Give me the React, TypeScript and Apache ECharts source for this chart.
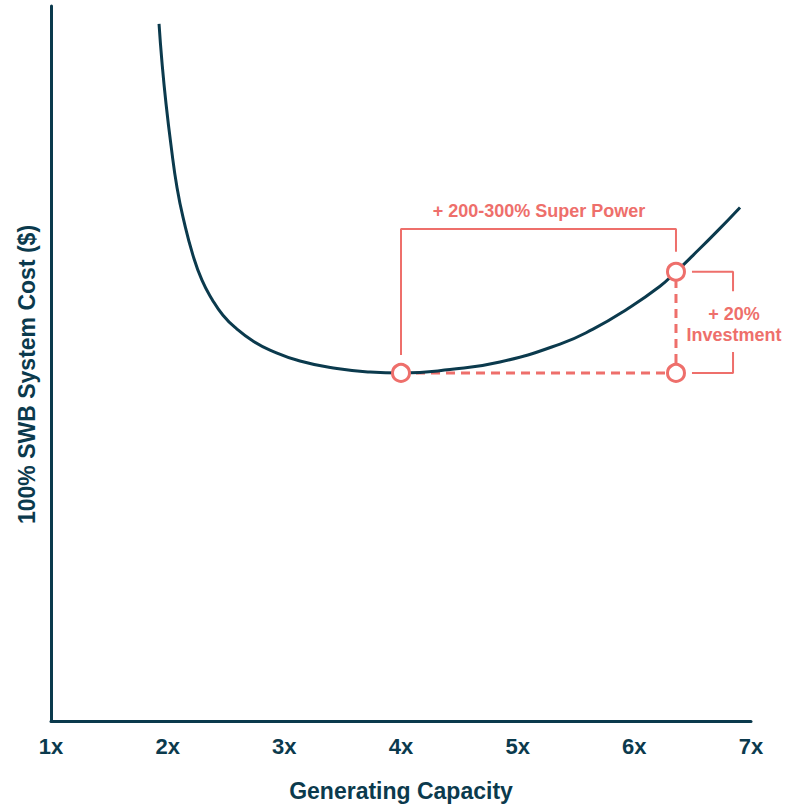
import React, { useEffect, useRef } from "react";
import * as echarts from "echarts";

const NAVY = "#0b3a4d";
const CORAL = "#ee6f6b";

const xTicks = [1, 2, 3, 4, 5, 6, 7];
const xAxisTitle = "Generating Capacity";
const yAxisTitle = "100% SWB System Cost ($)";

// Cost curve (generating capacity multiple, relative system cost)
const curveX = [1.926, 1.951, 1.986, 2.029, 2.08, 2.14, 2.217, 2.294, 2.38, 2.474, 2.594, 2.731, 2.877, 3.134, 3.451, 3.734, 4.0, 4.42, 4.848, 5.363, 5.646, 5.937, 6.22, 6.357, 6.503, 6.709, 6.906];
const curveY = [97.49, 92.19, 86.33, 80.47, 74.62, 69.87, 65.13, 61.65, 59.0, 56.76, 54.81, 53.14, 51.88, 50.35, 49.3, 48.81, 48.68, 49.16, 50.21, 52.72, 54.81, 57.6, 60.81, 62.83, 65.13, 68.48, 71.83];

// Highlighted points: optimum and "super power" point
const optimum = [4.0, 48.68];
const superPower = [6.357, 62.83];

const superLabel = "+ 200-300% Super Power";
const investLabel = ["+ 20%", "Investment"];

export default function App() {
  const ref = useRef<HTMLDivElement>(null);

  useEffect(() => {
    document.body.style.margin = "0";
    if (!ref.current) return;
    const chart = echarts.init(ref.current, null, { renderer: "svg" });

    const curve = curveX.map((x, i) => [x, curveY[i]]);
    const corner = [superPower[0], optimum[1]];

    const bracketTopY = 68.8;
    const bracket = [
      [optimum[0], optimum[1] + 2.5],
      [optimum[0], bracketTopY],
      [superPower[0], bracketTopY],
      [superPower[0], superPower[1] + 2.8],
    ];
    const bx0 = 6.494;
    const bx1 = 6.846;
    const rightTop = [
      [bx0, superPower[1]],
      [bx1, superPower[1]],
      [bx1, 60.1],
    ];
    const rightBottom = [
      [bx1, 51.6],
      [bx1, optimum[1]],
      [bx0, optimum[1]],
    ];

    const fontFamily = "'Liberation Sans', Arial, sans-serif";

    chart.setOption({
      animation: false,
      grid: { left: 51, right: 44, top: 6, bottom: 84 },
      xAxis: {
        type: "value",
        min: 1,
        max: 7,
        interval: 1,
        name: xAxisTitle,
        nameLocation: "middle",
        nameGap: 58,
        nameTextStyle: { color: NAVY, fontSize: 23, fontWeight: "bold", fontFamily },
        axisLine: { show: true, lineStyle: { color: NAVY, width: 3 } },
        axisTick: { show: false },
        splitLine: { show: false },
        axisLabel: {
          formatter: (v: number) => (xTicks.includes(v) ? v + "x" : ""),
          color: NAVY,
          fontSize: 22,
          fontWeight: "bold",
          fontFamily,
          margin: 14,
        },
      },
      yAxis: {
        type: "value",
        min: 0,
        max: 100,
        name: yAxisTitle,
        nameLocation: "middle",
        nameGap: 13,
        nameTextStyle: { color: NAVY, fontSize: 23, fontWeight: "bold", fontFamily, padding: [0, 22, 0, 0] },
        axisLine: { show: true, lineStyle: { color: NAVY, width: 3 } },
        axisTick: { show: false },
        splitLine: { show: false },
        axisLabel: { show: false },
      },
      series: [
        {
          type: "line",
          data: curve,
          smooth: 0.5,
          showSymbol: false,
          lineStyle: { color: NAVY, width: 3 },
          z: 3,
        },
        {
          type: "line",
          data: [optimum, corner, superPower],
          showSymbol: false,
          lineStyle: { color: CORAL, width: 3, type: [9, 6] },
          z: 2,
        },
        {
          type: "line",
          data: bracket,
          showSymbol: false,
          lineStyle: { color: CORAL, width: 2 },
          z: 2,
        },
        {
          type: "line",
          data: rightTop,
          showSymbol: false,
          lineStyle: { color: CORAL, width: 2 },
          z: 2,
        },
        {
          type: "line",
          data: rightBottom,
          showSymbol: false,
          lineStyle: { color: CORAL, width: 2 },
          z: 2,
        },
        {
          type: "scatter",
          data: [optimum, superPower, corner],
          symbol: "circle",
          symbolSize: 17,
          itemStyle: { color: "#ffffff", borderColor: CORAL, borderWidth: 3, opacity: 1 },
          z: 5,
        },
      ],
      graphic: [
        {
          type: "text",
          x: 539,
          y: 211,
          style: {
            text: superLabel,
            fill: CORAL,
            font: `bold 18px ${fontFamily}`,
            textAlign: "center",
            textVerticalAlign: "middle",
          },
        },
        {
          type: "text",
          x: 734,
          y: 324,
          style: {
            text: investLabel.join("\n"),
            fill: CORAL,
            font: `bold 18px ${fontFamily}`,
            lineHeight: 21,
            textAlign: "center",
            textVerticalAlign: "middle",
          },
        },
      ],
    });

    return () => chart.dispose();
  }, []);

  return <div ref={ref} style={{ width: 795, height: 807 }} />;
}
